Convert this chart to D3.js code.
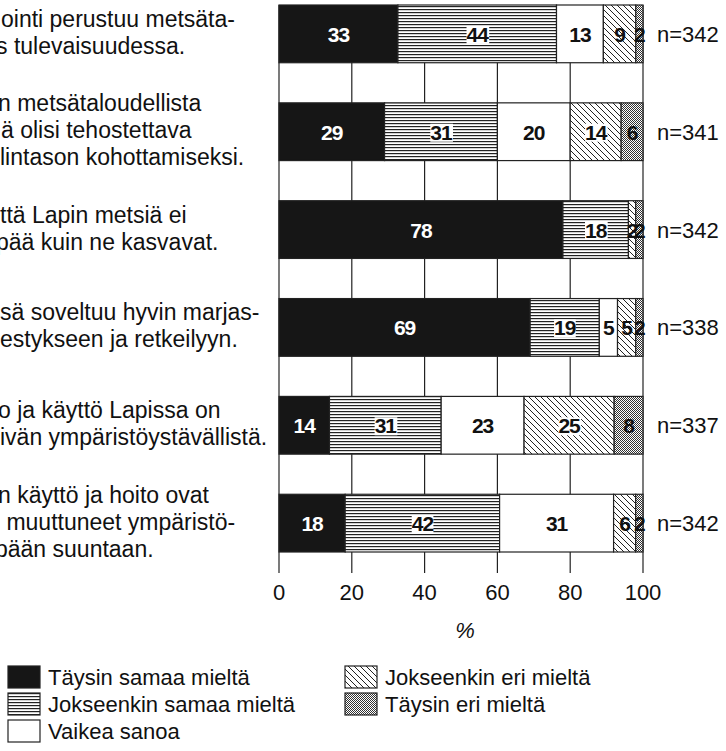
<!DOCTYPE html>
<html><head><meta charset="utf-8">
<script src="https://cdn.jsdelivr.net/npm/d3@7"></script>
<style>
html,body{margin:0;padding:0;background:#fff;}
svg{display:block;}
</style></head>
<body><svg id="c" width="726" height="751"></svg>
<script>
// ---- data ----
const categories = [
  ["ointi perustuu metsäta-", "s tulevaisuudessa."],
  ["n metsätaloudellista", "ä olisi tehostettava", "lintason kohottamiseksi."],
  ["ttä Lapin metsiä ei", "pää kuin ne kasvavat."],
  ["sä soveltuu hyvin marjas-", "estykseen ja retkeilyyn."],
  ["o ja käyttö Lapissa on", "ivän ympäristöystävällistä."],
  ["n käyttö ja hoito ovat", " muuttuneet ympäristö-", "pään suuntaan."]
];
const seriesNames = ["Täysin samaa mieltä", "Jokseenkin samaa mieltä", "Vaikea sanoa", "Jokseenkin eri mieltä", "Täysin eri mieltä"];
const taysinSamaa     = [33, 29, 78, 69, 14, 18];
const jokseenkinSamaa = [44, 31, 18, 19, 31, 42];
const vaikeaSanoa     = [13, 20, 0, 5, 23, 31];
const jokseenkinEri   = [9, 14, 2, 5, 25, 6];
const taysinEri       = [2, 6, 2, 2, 8, 2];
const nValues = [342, 341, 342, 338, 337, 342];
const tickValues = [0, 20, 40, 60, 80, 100];
const axisTitle = "%";

// ---- layout (not data) ----
const labelIndent = [[1, -4], [-2, 1, 0], [0, -4], [0, 0], [-2, 0], [-2, 0, -5]];
const FONT = 22;
const CAT_FONT = 23;
const FAM = "'Liberation Sans',Arial,sans-serif";

const svg = d3.select("#c");
const defs = svg.append("defs");
const pL = defs.append("pattern").attr("id", "lines").attr("patternUnits", "userSpaceOnUse")
  .attr("width", 6).attr("height", 3);
pL.append("rect").attr("width", 6).attr("height", 3).attr("fill", "#fff");
pL.append("rect").attr("y", 0).attr("width", 6).attr("height", 1.2).attr("fill", "#222");
const pH = defs.append("pattern").attr("id", "hatch").attr("patternUnits", "userSpaceOnUse")
  .attr("width", 6).attr("height", 6);
pH.append("rect").attr("width", 6).attr("height", 6).attr("fill", "#fff");
pH.append("path").attr("d", "M0,0L6,6M-1,5L1,7M5,-1L7,1").attr("stroke", "#222").attr("stroke-width", 1);
const pC = defs.append("pattern").attr("id", "cross").attr("patternUnits", "userSpaceOnUse")
  .attr("width", 2).attr("height", 2);
pC.append("rect").attr("width", 2).attr("height", 2).attr("fill", "#fff");
pC.append("rect").attr("x", 0).attr("y", 0).attr("width", 1).attr("height", 1).attr("fill", "#333");
pC.append("rect").attr("x", 1).attr("y", 1).attr("width", 1).attr("height", 1).attr("fill", "#333");

const fills = ["#161616", "url(#lines)", "#fff", "url(#hatch)", "url(#cross)"];

const rows = categories.map((c, i) => ({
  s0: taysinSamaa[i], s1: jokseenkinSamaa[i], s2: vaikeaSanoa[i], s3: jokseenkinEri[i], s4: taysinEri[i]
}));
const keys = ["s0", "s1", "s2", "s3", "s4"];
const stacked = d3.stack().keys(keys).offset(d3.stackOffsetExpand)(rows);

const x = d3.scaleLinear().domain([0, 100]).range([279, 643]);
const y = d3.scaleBand().domain(d3.range(categories.length)).range([5, 552]).paddingInner(0.41).paddingOuter(0);
const plotBottom = 573;

function txt(sel) { return sel.style("font-family", FAM); }

svg.append("g").selectAll("line").data(tickValues).join("line")
  .attr("x1", d => x(d)).attr("x2", d => x(d))
  .attr("y1", y(0)).attr("y2", plotBottom)
  .attr("stroke", "#222").attr("stroke-width", 1.2);

const gBars = svg.append("g");
stacked.forEach((layer, k) => {
  gBars.append("g").selectAll("rect").data(layer).join("rect")
    .attr("x", d => x(d[0] * 100))
    .attr("width", d => x(d[1] * 100) - x(d[0] * 100))
    .attr("y", (d, i) => y(i))
    .attr("height", y.bandwidth())
    .attr("fill", fills[k])
    .attr("stroke", "#222").attr("stroke-width", 1.2);
});

const gLab = svg.append("g");
stacked.forEach((layer, k) => {
  layer.forEach((d, i) => {
    const v = d.data[keys[k]];
    if (!v) return;
    const cx = x((d[0] + d[1]) / 2 * 100);
    const cy = y(i) + y.bandwidth() / 2;
    const g = gLab.append("g");
    const t = txt(g.append("text")).attr("x", cx).attr("y", cy + 8)
      .attr("text-anchor", "middle").attr("font-size", 21).attr("font-weight", "bold")
      .attr("letter-spacing", -1)
      .attr("fill", k === 0 ? "#fff" : "#111").text(v);
    if (k === 1 || (k === 3 && v >= 10)) {
      const bb = t.node().getBBox();
      g.insert("rect", "text").attr("x", bb.x).attr("y", bb.y + 3)
        .attr("width", bb.width).attr("height", bb.height - 5).attr("fill", "#fff");
    }
  });
});

txt(svg.append("g").selectAll("text").data(nValues).join("text"))
  .attr("x", 657).attr("y", (d, i) => y(i) + y.bandwidth() / 2 + 8)
  .attr("font-size", FONT).attr("fill", "#111").text(d => "n=" + d);

categories.forEach((lines, i) => {
  const cy = y(i) + y.bandwidth() / 2 + 6.5;
  lines.forEach((ln, j) => {
    txt(svg.append("text"))
      .attr("x", labelIndent[i][j])
      .attr("y", cy + (j - (lines.length - 1) / 2) * 27)
      .attr("font-size", CAT_FONT).attr("fill", "#111")
      .attr("xml:space", "preserve").style("white-space", "pre")
      .text(ln);
  });
});

txt(svg.append("g").selectAll("text").data(tickValues).join("text"))
  .attr("x", d => x(d)).attr("y", 600).attr("text-anchor", "middle")
  .attr("font-size", FONT).attr("fill", "#111").text(d => d);
txt(svg.append("text")).attr("x", 465).attr("y", 638).attr("text-anchor", "middle")
  .attr("font-size", FONT).attr("font-style", "italic").attr("fill", "#111").text(axisTitle);

const legendPos = [[8, 0], [8, 1], [8, 2], [345, 0], [345, 1]];
seriesNames.forEach((name, k) => {
  const [lx, r] = legendPos[k];
  const cy = 677 + r * 27;
  svg.append("rect").attr("x", lx).attr("y", cy - 11).attr("width", 32).attr("height", 22)
    .attr("fill", fills[k]).attr("stroke", "#222").attr("stroke-width", 1.2);
  txt(svg.append("text")).attr("x", lx + 40).attr("y", cy + 8).attr("font-size", FONT)
    .attr("fill", "#111").text(name);
});
</script></body></html>
